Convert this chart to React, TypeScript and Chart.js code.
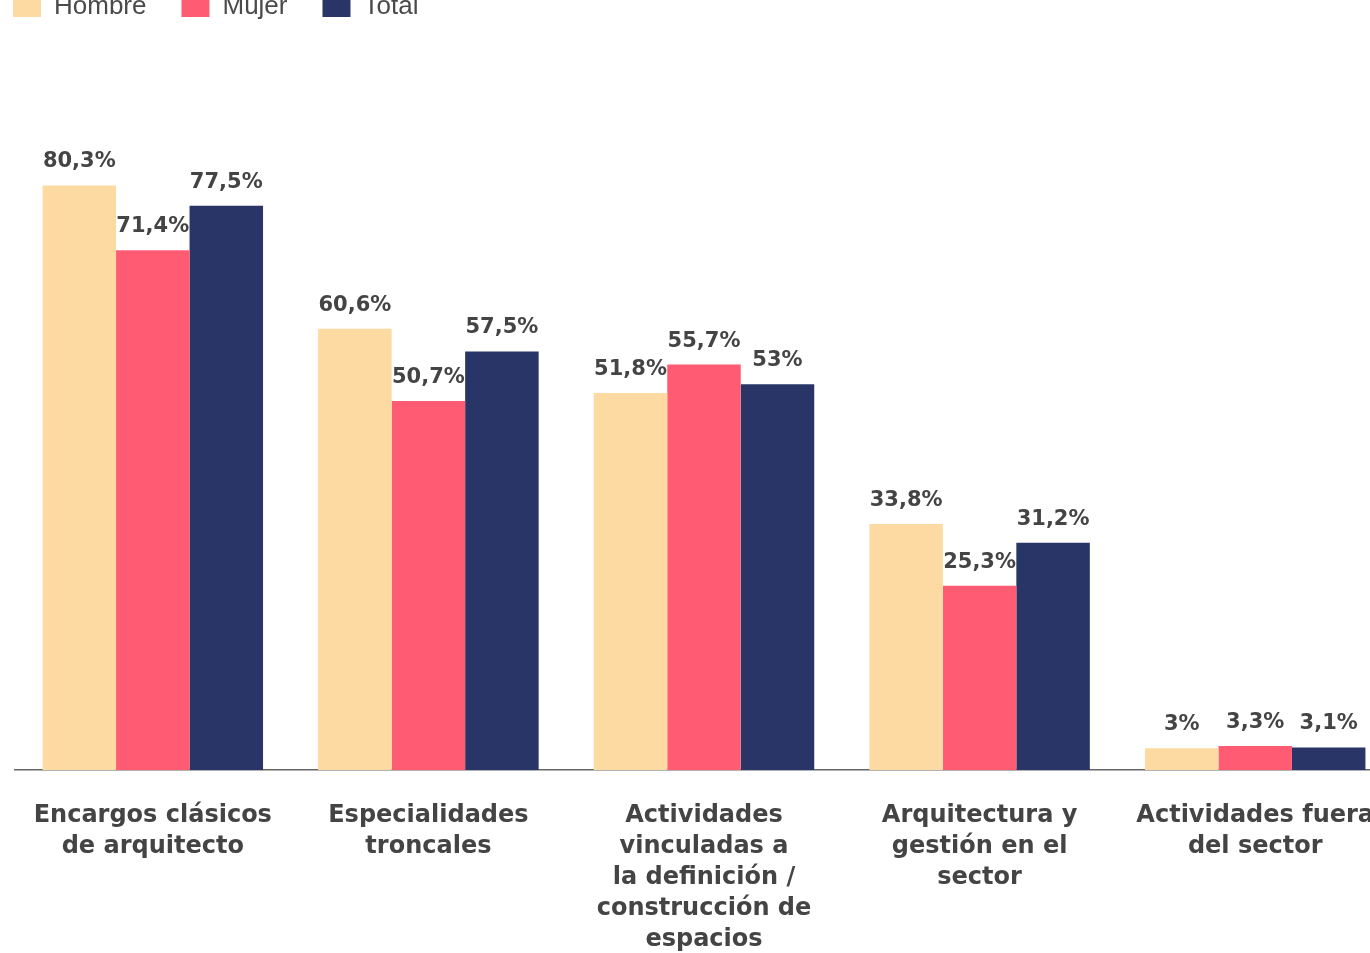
import React, { useEffect, useRef } from "react";
import { Chart, registerables } from "chart.js";

Chart.register(...registerables);

const categories: string[][] = [
  ["Encargos clásicos", "de arquitecto"],
  ["Especialidades", "troncales"],
  ["Actividades", "vinculadas a", "la definición /", "construcción de", "espacios"],
  ["Arquitectura y", "gestión en el", "sector"],
  ["Actividades fuera", "del sector"],
];

const seriesNames = ["Hombre", "Mujer", "Total"];
const hombre = [80.3, 60.6, 51.8, 33.8, 3];
const mujer = [71.4, 50.7, 55.7, 25.3, 3.3];
const total = [77.5, 57.5, 53, 31.2, 3.1];
const colors = ["#FEDAA3", "#FF5C74", "#293566"];

const fmt = (v: number) => String(v).replace(".", ",") + "%";

const dataLabelPlugin = {
  id: "dataLabels",
  afterDatasetsDraw(chart: any) {
    const ctx = chart.ctx;
    ctx.save();
    ctx.font = "bold 21px 'DejaVu Sans'";
    ctx.fillStyle = "#444444";
    ctx.textAlign = "center";
    ctx.textBaseline = "alphabetic";
    chart.data.datasets.forEach((ds: any, i: number) => {
      const meta = chart.getDatasetMeta(i);
      meta.data.forEach((bar: any, j: number) => {
        ctx.fillText(fmt(ds.data[j]), bar.x, bar.y - 18);
      });
    });
    ctx.restore();
  },
};

const legendFitPlugin = {
  id: "legendFit",
  beforeLayout(chart: any) {
    const lg = chart.legend;
    if (lg && !lg._patched) {
      const orig = lg.fit;
      lg.fit = function () {
        orig.call(this);
        this.height = 83;
      };
      lg._patched = true;
    }
  },
};

export default function App() {
  const ref = useRef<HTMLCanvasElement | null>(null);
  useEffect(() => {
    if (!ref.current) return;
    const chart = new Chart(ref.current, {
      type: "bar",
      data: {
        labels: categories as any,
        datasets: [hombre, mujer, total].map((d, i) => ({
          label: seriesNames[i],
          data: d,
          backgroundColor: colors[i],
          borderWidth: 0,
          categoryPercentage: 0.8,
          barPercentage: 1.0,
        })),
      },
      options: {
        animation: false,
        responsive: true,
        maintainAspectRatio: false,
        layout: { padding: 0 },
        plugins: {
          tooltip: { enabled: false },
          legend: {
            position: "top",
            align: "start",
            labels: {
              boxWidth: 28,
              boxHeight: 20,
              padding: 35,
              color: "#4a4a4a",
              font: { family: "'Liberation Sans', Arial, sans-serif", size: 26 },
            },
          },
        },
        scales: {
          x: {
            grid: { display: false, drawTicks: false },
            border: { display: true, color: "#666666", width: 1.5 },
            ticks: {
              padding: 30,
              maxRotation: 0,
              autoSkip: false,
              color: "#444444",
              font: { family: "'DejaVu Sans'", size: 24, weight: "bold", lineHeight: 1.29 },
            },
            afterFit: (s: any) => {
              s.height = 190;
              s.paddingLeft = 0;
              s.paddingRight = 0;
              s.paddingTop = 0;
              s.paddingBottom = 0;
            },
          },
          y: {
            min: 0,
            max: 100,
            grid: { display: false },
            border: { display: false },
            ticks: { display: false },
            afterFit: (s: any) => {
              s.width = 37;
              s.paddingTop = 0;
              s.paddingBottom = 0;
            },
          },
        },
      } as any,
      plugins: [dataLabelPlugin, legendFitPlugin],
    });
    return () => chart.destroy();
  }, []);

  return (
    <div
      style={{
        position: "fixed",
        left: 0,
        top: 0,
        width: 1370,
        height: 953,
        overflow: "hidden",
        background: "#ffffff",
      }}
    >
      <div style={{ position: "absolute", left: -22, top: -41, width: 1415, height: 1001 }}>
        <canvas ref={ref} />
      </div>
    </div>
  );
}
